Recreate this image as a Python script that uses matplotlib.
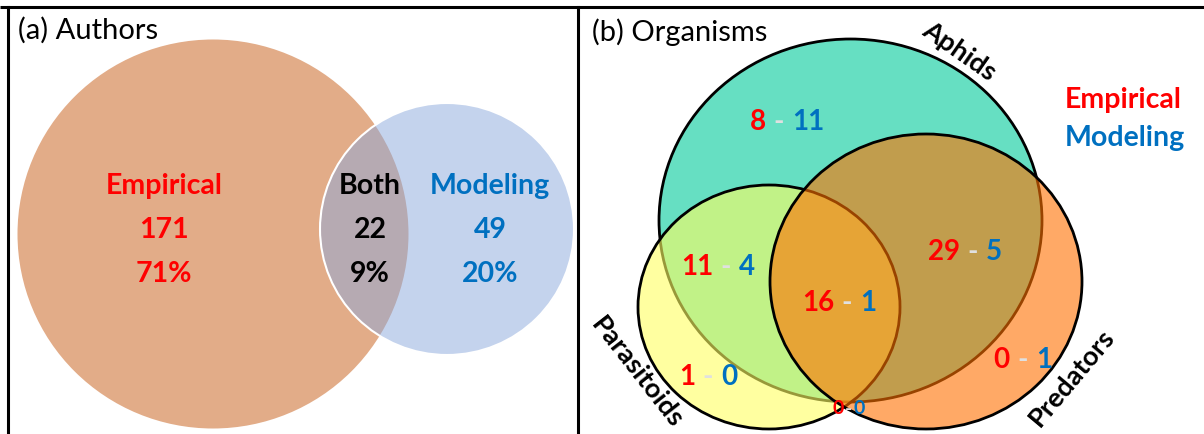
import matplotlib.pyplot as plt
from matplotlib.patches import Ellipse
from matplotlib.colors import to_rgba

plt.rcParams['font.family'] = ['Lato', 'DejaVu Sans']

# (a) Authors
author_groups = ['Empirical', 'Both', 'Modeling']
author_counts = [171, 22, 49]
author_pct = [71, 9, 20]
author_colors = ['#FF0000', '#000000', '#0070C0']

# (b) Organisms: region -> (empirical, modeling)
org_sets = ['Aphids', 'Parasitoids', 'Predators']
org_regions = ['A', 'A+Pa', 'A+Pr', 'A+Pa+Pr', 'Pa', 'Pr', 'Pa+Pr']
org_empirical = [8, 11, 29, 16, 1, 0, 0]
org_modeling = [11, 4, 5, 1, 0, 1, 0]

RED = '#FF0000'
BLUE = '#0070C0'
DASH = '#E0E0E0'

fig = plt.figure(figsize=(12.04, 4.34), dpi=100)
ax = fig.add_axes([0, 0, 1, 1])
ax.set_xlim(0, 1204)
ax.set_ylim(434, 0)
ax.axis('off')

# frame
ax.plot([0, 1204], [7, 7], color='black', lw=2.2, solid_capstyle='butt')
ax.plot([8, 8], [7, 434], color='black', lw=2.2)
ax.plot([578, 578], [7, 434], color='black', lw=2.2)

# ---- panel (a)
ax.add_patch(Ellipse((213, 234), 391, 389, facecolor='#E2AC88', edgecolor='none'))
ax.add_patch(Ellipse((447, 229), 254, 252, facecolor=to_rgba('#8BA9DD', 0.5),
                     edgecolor='white', lw=1.5))
ax.text(18, 30, '(a) Authors', fontsize=21, ha='left', va='center')

a_x = [164, 370, 490]
for i, g in enumerate(author_groups):
    kw = dict(fontsize=20.5, fontweight='bold', color=author_colors[i], ha='center', va='center')
    ax.text(a_x[i], 186, g, **kw)
    ax.text(a_x[i], 230, str(author_counts[i]), **kw)
    ax.text(a_x[i], 274, f'{author_pct[i]}%', **kw)

# ---- panel (b)
ax.add_patch(Ellipse((850.5, 220.5), 383, 363, facecolor='#66DFC2', edgecolor='black', lw=2))
ax.add_patch(Ellipse((769, 307), 262, 244, facecolor=to_rgba('#FFFF61', 0.6),
                     edgecolor='black', lw=2))
ax.add_patch(Ellipse((926, 281.5), 312, 295, facecolor=to_rgba('#FF7100', 0.6),
                     edgecolor='black', lw=2))

ax.text(592, 32, '(b) Organisms', fontsize=21, ha='left', va='center')
ax.text(1123, 100, 'Empirical', fontsize=20.5, fontweight='bold', color=RED, ha='center', va='center')
ax.text(1125, 138, 'Modeling', fontsize=20.5, fontweight='bold', color=BLUE, ha='center', va='center')

label_pos = [(959, 51, -35), (637, 372, -52), (1072, 378, 50)]
for name, (x, y, r) in zip(org_sets, label_pos):
    ax.text(x, y, name, fontsize=19.5, fontweight='bold', rotation=r,
            rotation_mode='anchor', ha='center', va='center')

region_pos = [(779, 122), (726, 267), (973, 252), (847, 303), (708, 377), (1023, 360), (849, 409)]
for k, (x, y) in enumerate(region_pos):
    small = org_regions[k] == 'Pa+Pr'
    fs = 14 if small else 20
    gap = 5 if small else 13
    ax.text(x, y, '-', fontsize=fs, fontweight='bold', color=DASH, ha='center', va='center')
    ax.text(x - gap, y, str(org_empirical[k]), fontsize=fs, fontweight='bold', color=RED,
            ha='right', va='center')
    ax.text(x + gap, y, str(org_modeling[k]), fontsize=fs, fontweight='bold', color=BLUE,
            ha='left', va='center')

fig.savefig('out.png', dpi=100)
